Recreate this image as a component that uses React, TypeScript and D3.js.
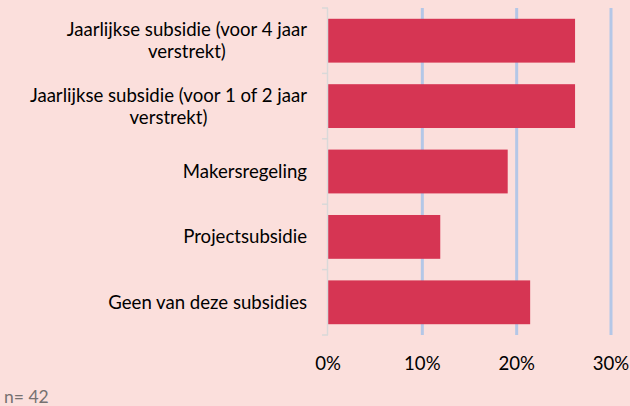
import React, { useEffect, useRef } from "react";
import * as d3 from "d3";

const categories = [
  ["Jaarlijkse subsidie (voor 4 jaar", "verstrekt)"],
  ["Jaarlijkse subsidie (voor 1 of 2 jaar", "verstrekt)"],
  ["Makersregeling"],
  ["Projectsubsidie"],
  ["Geen van deze subsidies"],
];
const values = [0.2619, 0.2619, 0.1905, 0.119, 0.2143];
const ticks = [0, 0.1, 0.2, 0.3];
const note = "n= 42";

const W = 630;
const H = 406;
const FONT = "Lato, 'Open Sans', sans-serif";
const FS = 18.6;

const App = () => {
  const svgRef = useRef<SVGSVGElement>(null);

  useEffect(() => {
    const svg = d3.select(svgRef.current);
    svg.selectAll("*").remove();

    const margin = { top: 8, right: 20, bottom: 71, left: 328 };
    const x = d3.scaleLinear().domain([0, 0.3]).range([margin.left, margin.left + 283]);
    const y = d3
      .scaleBand<number>()
      .domain(d3.range(categories.length))
      .range([margin.top, H - margin.bottom])
      .paddingInner(0.33)
      .paddingOuter(0.165);

    svg.append("rect").attr("width", W).attr("height", H).attr("fill", "#fbdfdc");

    // gridlines
    svg
      .selectAll(".grid")
      .data(ticks.slice(1))
      .enter()
      .append("line")
      .attr("x1", (d) => x(d))
      .attr("x2", (d) => x(d))
      .attr("y1", margin.top)
      .attr("y2", H - margin.bottom)
      .attr("stroke", "#b4c7e7")
      .attr("stroke-width", 3);

    // bars
    svg
      .selectAll(".bar")
      .data(values)
      .enter()
      .append("rect")
      .attr("x", x(0))
      .attr("y", (_, i) => y(i)!)
      .attr("width", (d) => x(d) - x(0))
      .attr("height", y.bandwidth())
      .attr("fill", "#d63553");

    // category axis
    const step = y.step();
    const axis = svg.append("g").attr("stroke", "#d9d9d9").attr("stroke-width", 1.5);
    axis
      .append("line")
      .attr("x1", x(0) - 0.5)
      .attr("x2", x(0) - 0.5)
      .attr("y1", margin.top)
      .attr("y2", H - margin.bottom);
    d3.range(categories.length + 1).forEach((i) => {
      const yy = margin.top + i * step;
      axis
        .append("line")
        .attr("x1", x(0) - 6)
        .attr("x2", x(0))
        .attr("y1", yy)
        .attr("y2", yy);
    });

    // category labels
    const labelRight = 307;
    const lineH = 22;
    categories.forEach((lines, i) => {
      const cy = y(i)! + y.bandwidth() / 2;
      const g = svg
        .append("g")
        .attr("font-family", FONT)
        .attr("font-size", FS)
        .attr("fill", "#000");
      const texts = lines.map((l, j) =>
        g
          .append("text")
          .attr("y", cy + (j - (lines.length - 1) / 2) * lineH)
          .attr("dy", "0.35em")
          .text(l)
      );
      const widths = texts.map((t) => (t.node() as SVGTextElement).getComputedTextLength());
      const maxW = d3.max(widths)!;
      texts.forEach((t) => t.attr("x", labelRight - maxW / 2).attr("text-anchor", "middle"));
    });

    // value axis labels
    svg
      .selectAll(".tick")
      .data(ticks)
      .enter()
      .append("text")
      .attr("x", (d) => x(d))
      .attr("y", 363)
      .attr("dy", "0.35em")
      .attr("text-anchor", "middle")
      .attr("font-family", FONT)
      .attr("font-size", FS)
      .text(d3.format(".0%"));

    svg
      .append("text")
      .attr("x", 4)
      .attr("y", 403)
      .attr("font-family", FONT)
      .attr("font-size", 17.5)
      .attr("fill", "#767171")
      .text(note);
  }, []);

  return (
    <svg
      ref={svgRef}
      width={W}
      height={H}
      style={{ position: "fixed", left: 0, top: 0, display: "block" }}
    ></svg>
  );
};

export default App;
